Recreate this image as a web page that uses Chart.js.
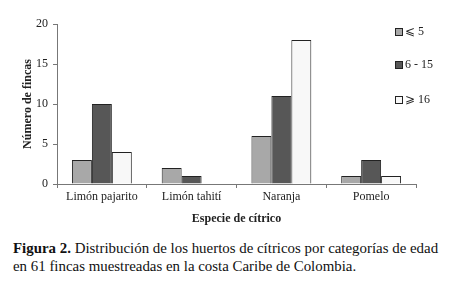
<!DOCTYPE html>
<html>
<head>
<meta charset="utf-8">
<script src="https://cdn.jsdelivr.net/npm/chart.js@4/dist/chart.umd.min.js"></script>
<style>
  html, body { margin: 0; padding: 0; background: #fff; }
  #wrap { position: relative; width: 450px; height: 305px; }
  #chart { position: absolute; left: 0; top: 0; }
  #caption {
    position: absolute; left: 13px; top: 239px; width: 437px;
    font-family: "Liberation Serif", serif; font-size: 14.9px; line-height: 18px; color: #111;
  }
</style>
</head>
<body>
<div id="wrap">
  <canvas id="chart" width="450" height="230"></canvas>
  <div id="caption"><b>Figura 2.</b> Distribución de los huertos de cítricos por categorías de edad<br>en 61 fincas muestreadas en la costa Caribe de Colombia.</div>
</div>
<script>
// Data
const species = ['Limón pajarito', 'Limón tahití', 'Naranja', 'Pomelo'];
const ageLabels = ['⩽ 5', '6 - 15', '⩾ 16'];
const young = [3, 2, 6, 1];      // <= 5 years
const mid = [10, 1, 11, 3];      // 6 - 15 years
const old = [4, 0, 18, 1];       // >= 16 years
const yTicks = [0, 5, 10, 15, 20];

const fills = ['#a8a8a8', '#575757', '#f8f8f8'];
const serif = '"Liberation Serif", "Times New Roman", serif';

// small legend drawn to the right, inside the plot frame
const sideLegend = {
    id: 'sideLegend',
    afterDraw(chart) {
        const ctx = chart.ctx;
        const rows = [32, 65, 100];
        ctx.save();
        ctx.font = '12px ' + serif;
        ctx.textBaseline = 'middle';
        chart.data.datasets.forEach((ds, i) => {
            const y = rows[i];
            ctx.fillStyle = ds.backgroundColor;
            ctx.fillRect(395.5, y - 3.5, 7, 7);
            ctx.strokeStyle = '#222';
            ctx.lineWidth = 1;
            ctx.strokeRect(395.5, y - 3.5, 7, 7);
            ctx.fillStyle = '#222';
            ctx.fillText(ds.label, 405, y);
        });
        ctx.restore();
    }
};

new Chart(document.getElementById('chart'), {
    type: 'bar',
    data: {
        labels: species,
        datasets: [young, mid, old].map((vals, i) => ({
            label: ageLabels[i],
            data: vals,
            backgroundColor: fills[i],
            borderColor: '#222',
            borderWidth: 1,
            barPercentage: 1,
            categoryPercentage: 0.667,
        })),
    },
    options: {
        responsive: false,
        animation: false,
        layout: { padding: { top: 24, right: 34, left: 17, bottom: 0 } },
        plugins: { legend: { display: false }, tooltip: { enabled: false } },
        scales: {
            x: {
                afterFit: s => { s.height = 46; },
                grid: { display: true, drawOnChartArea: false, drawTicks: true, tickLength: 4, color: '#777', offset: true },
                border: { color: '#777' },
                ticks: { color: '#222', font: { family: serif, size: 12 }, padding: 2 },
                title: { display: true, text: 'Especie de cítrico', color: '#222', font: { family: serif, size: 12, weight: 'bold' }, padding: { top: 4 } },
            },
            y: {
                min: 0, max: 20,
                afterFit: s => { s.width = 40; },
                afterBuildTicks: s => { s.ticks = yTicks.map(v => ({ value: v })); },
                grid: { display: true, drawOnChartArea: false, drawTicks: true, tickLength: 4, color: '#777' },
                border: { color: '#777' },
                ticks: { color: '#222', font: { family: serif, size: 12 }, padding: 5 },
                title: { display: true, text: 'Número de fincas', color: '#222', font: { family: serif, size: 12, weight: 'bold' }, padding: { bottom: 0 } },
            },
        },
    },
    plugins: [sideLegend],
});
</script>
</body>
</html>
